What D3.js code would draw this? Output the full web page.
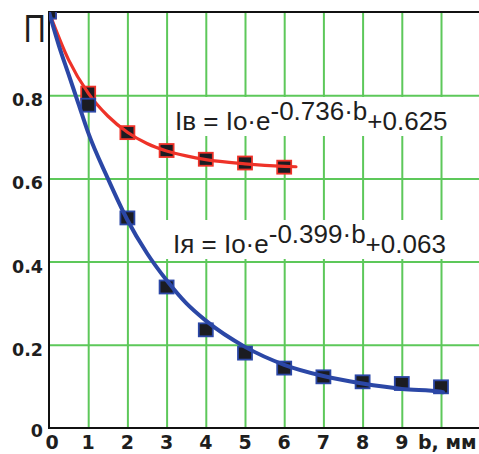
<!DOCTYPE html>
<html>
<head>
<meta charset="utf-8">
<script src="https://cdn.jsdelivr.net/npm/d3@7"></script>
<style>
  html, body { margin: 0; padding: 0; background: #fff; }
  svg { display: block; }
</style>
</head>
<body>
<svg id="chart" width="479" height="454"></svg>
<script>
// ---------- data ----------
const xTicks = [0, 1, 2, 3, 4, 5, 6, 7, 8, 9];
const xGrid = [1, 2, 3, 4, 5, 6, 7, 8, 9, 10];
const yTicks = [0, 0.2, 0.4, 0.6, 0.8];
const yTickLabels = ["0", "0.2", "0.4", "0.6", "0.8"];
const yGrid = [0.2, 0.4, 0.6, 0.8];
const xAxisTitle = "b, мм";
const yAxisTitle = "П";

// measured points
const redB = [0, 1, 2, 3, 4, 5, 6];
const redV = [1.0, 0.805, 0.710, 0.667, 0.646, 0.637, 0.627];
const blueB = [0, 1, 2, 3, 4, 5, 6, 7, 8, 9, 10];
const blueV = [1.0, 0.776, 0.505, 0.339, 0.236, 0.180, 0.144, 0.123, 0.111, 0.107, 0.099];

// fitted curves
const redCurveB = [0, 0.5, 1, 1.5, 2, 2.5, 3, 3.5, 4, 5, 6, 6.3];
const redCurveV = [1.0, 0.885, 0.805, 0.75, 0.711, 0.684, 0.666, 0.654, 0.645, 0.635, 0.629, 0.628];
const blueCurveB = [0, 0.25, 0.5, 0.75, 1, 1.5, 2, 2.5, 3, 3.5, 4, 5, 6, 7, 8, 9, 10, 10.05];
const blueCurveV = [1.0, 0.92, 0.85, 0.78, 0.71, 0.6, 0.5, 0.42, 0.355, 0.3, 0.258, 0.195, 0.152, 0.125, 0.107, 0.094, 0.087, 0.086];

const formula1 = { base: "Iв = Io·e", exp: "-0.736·b", tail: "+0.625" };
const formula2 = { base: "Iя = Io·e", exp: "-0.399·b", tail: "+0.063" };

// ---------- layout ----------
const svg = d3.select("#chart");
const L = 49, R = 479, T = 12, B = 428;
const x = d3.scaleLinear().domain([0, 11]).range([L, L + 39.2 * 11]);
const y = d3.scaleLinear().domain([0, 1]).range([B, T]);

const GREEN = "#5dc85a";
const RED = "#ee3228";
const BLUE = "#2b47a6";
const SQFILL = "#1b1c22";

svg.append("rect").attr("width", 479).attr("height", 454).attr("fill", "#fff");

svg.append("defs").append("clipPath").attr("id", "plotclip")
  .append("rect").attr("x", L).attr("y", T).attr("width", R - L).attr("height", B - T);

// grid via axes
const gx = svg.append("g").attr("transform", `translate(0,${B})`)
  .call(d3.axisBottom(x).tickValues(xGrid).tickSize(-(B - T)).tickFormat(""));
gx.select(".domain").remove();
gx.selectAll("line").attr("stroke", GREEN).attr("stroke-width", 2);

const gy = svg.append("g").attr("transform", `translate(${L},0)`)
  .call(d3.axisLeft(y).tickValues(yGrid).tickSize(-(R - L)).tickFormat(""));
gy.select(".domain").remove();
gy.selectAll("line").attr("stroke", GREEN).attr("stroke-width", 2);

// formulas (white boxes behind)
function drawFormula(f, tx, ty) {
  const g = svg.append("g");
  const t = g.append("text")
    .attr("x", tx).attr("y", ty)
    .attr("font-family", "'Liberation Sans', Arial, sans-serif")
    .attr("font-size", 26)
    .attr("fill", "#1e1e1e");
  t.append("tspan").text(f.base);
  t.append("tspan").attr("dy", -10).text(f.exp);
  t.append("tspan").attr("dy", 10).text(f.tail);
  const bb = t.node().getBBox();
  g.insert("rect", "text")
    .attr("x", bb.x - 7).attr("y", bb.y + 1)
    .attr("width", bb.width + 18).attr("height", bb.height - 1)
    .attr("fill", "#fff");
}
drawFormula(formula1, 175, 130);
drawFormula(formula2, 173, 253);

// axes frame
svg.append("line").attr("x1", L).attr("x2", L).attr("y1", T - 1).attr("y2", B + 1)
  .attr("stroke", "#111").attr("stroke-width", 2);
svg.append("line").attr("x1", L - 1).attr("x2", R).attr("y1", B).attr("y2", B)
  .attr("stroke", "#111").attr("stroke-width", 2);
svg.append("line").attr("x1", L - 1).attr("x2", R).attr("y1", T).attr("y2", T)
  .attr("stroke", "#111").attr("stroke-width", 2);

// series
const plot = svg.append("g").attr("clip-path", "url(#plotclip)");
const line = d3.line().x(d => x(d[0])).y(d => y(d[1])).curve(d3.curveMonotoneX);
const SQ = 14;

function squares(bs, vs, stroke) {
  plot.append("g").selectAll("rect").data(d3.zip(bs, vs)).join("rect")
    .attr("x", d => x(d[0]) - SQ / 2).attr("y", d => y(d[1]) - SQ / 2 + 0.5)
    .attr("width", SQ).attr("height", SQ - 1)
    .attr("fill", SQFILL).attr("stroke", stroke).attr("stroke-width", 1.8);
}
squares(redB, redV, RED);
plot.append("path").datum(d3.zip(redCurveB, redCurveV))
  .attr("d", line).attr("fill", "none").attr("stroke", RED).attr("stroke-width", 3.2)
  .attr("stroke-linecap", "round");
squares(blueB, blueV, BLUE);
plot.append("path").datum(d3.zip(blueCurveB, blueCurveV))
  .attr("d", line).attr("fill", "none").attr("stroke", BLUE).attr("stroke-width", 4)
  .attr("stroke-linecap", "round");

// tick labels
const tickFont = "'DejaVu Sans', Verdana, sans-serif";
svg.append("g").selectAll("text").data(d3.zip(yTicks, yTickLabels)).join("text")
  .attr("x", 43).attr("y", d => y(d[0]) + (d[0] === 0 ? 9 : 11))
  .attr("text-anchor", "end")
  .attr("font-family", tickFont).attr("font-weight", "bold").attr("font-size", 17.5)
  .attr("fill", "#1e1e1e")
  .text(d => d[1]);

svg.append("g").selectAll("text").data(xTicks).join("text")
  .attr("x", d => x(d) + (d === 0 ? 3 : 0)).attr("y", 449)
  .attr("text-anchor", "middle")
  .attr("font-family", tickFont).attr("font-weight", "bold").attr("font-size", 19)
  .attr("fill", "#1e1e1e")
  .text(d => d);

svg.append("text").attr("x", 418).attr("y", 449)
  .attr("font-family", tickFont).attr("font-weight", "bold").attr("font-size", 19)
  .attr("fill", "#1e1e1e").text(xAxisTitle);

svg.append("g").attr("transform", "translate(45.5,41.7) scale(0.8,1)")
  .append("text").attr("x", 0).attr("y", 0).attr("text-anchor", "end")
  .attr("font-family", "'Liberation Sans', Arial, sans-serif").attr("font-size", 38)
  .attr("fill", "#1e1e1e").text(yAxisTitle);
</script>
</body>
</html>
